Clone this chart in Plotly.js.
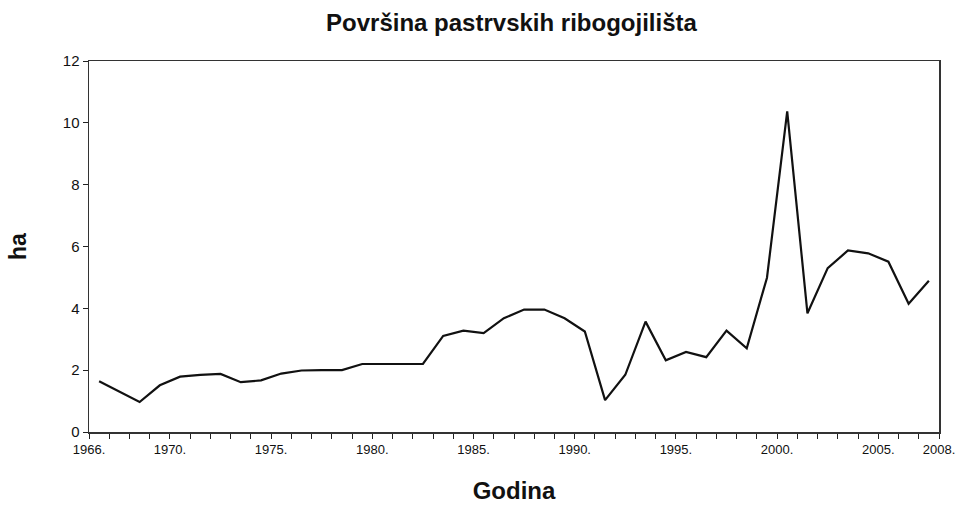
<!DOCTYPE html>
<html>
<head>
<meta charset="utf-8">
<script src="https://cdn.plot.ly/plotly-3.0.1.min.js"></script>
<style>html,body{margin:0;padding:0;background:#fff;}#chart{width:956px;height:508px;}</style>
</head>
<body>
<div id="chart"></div>
<script>
// Years (one value per year, plotted in the middle of the year interval)
const years = [1966,1967,1968,1969,1970,1971,1972,1973,1974,1975,1976,1977,1978,1979,
               1980,1981,1982,1983,1984,1985,1986,1987,1988,1989,1990,1991,1992,1993,
               1994,1995,1996,1997,1998,1999,2000,2001,2002,2003,2004,2005,2006,2007];
// Area of trout farms (ha)
const area = [1.64,1.30,0.97,1.51,1.79,1.85,1.88,1.61,1.67,1.89,1.99,2.0,2.0,2.2,
              2.2,2.2,2.2,3.11,3.28,3.2,3.68,3.96,3.96,3.68,3.25,1.03,1.85,3.57,
              2.32,2.59,2.42,3.28,2.71,4.99,10.37,3.84,5.3,5.87,5.78,5.51,4.15,4.89];
// Axis tick marks and labels
const tickYears = [];
for (let y = 1966; y <= 2008; y++) tickYears.push(y);
const labelYears = [1966,1970,1975,1980,1985,1990,1995,2000,2005,2008];
const tickText = tickYears.map(y => labelYears.includes(y) ? y + '.' : '');

const trace = {
  x: years.map(y => y + 0.5),
  y: area,
  type: 'scatter',
  mode: 'lines',
  line: {color: '#111', width: 2.2},
  hoverinfo: 'x+y'
};

const layout = {
  width: 956, height: 508,
  margin: {l: 89, r: 17, t: 61, b: 76},
  paper_bgcolor: '#fff', plot_bgcolor: '#fff',
  font: {family: '"Liberation Sans", Arial, sans-serif', color: '#111'},
  showlegend: false,
  title: {
    text: '<b>Površina pastrvskih ribogojilišta</b>',
    font: {size: 24, color: '#111'},
    x: 0.535, xanchor: 'center', y: 0.955, yanchor: 'middle'
  },
  xaxis: {
    type: 'linear', range: [1966, 2008],
    tickmode: 'array', tickvals: tickYears, ticktext: tickText,
    ticks: 'outside', ticklen: 5, tickwidth: 1, tickcolor: '#222',
    tickfont: {size: 13, color: '#111'},
    showgrid: false, zeroline: false,
    showline: true, linecolor: '#333', linewidth: 1.5, mirror: true,
    title: {text: '<b>Godina</b>', font: {size: 24, color: '#111'}, standoff: 26}
  },
  yaxis: {
    range: [0, 12], dtick: 2, tick0: 0,
    ticks: 'outside', ticklen: 5, tickwidth: 1, tickcolor: '#222',
    tickfont: {size: 15, color: '#111'},
    showgrid: false, zeroline: false,
    showline: true, linecolor: '#333', linewidth: 1.5, mirror: true,
    title: {text: '<b>ha</b>', font: {size: 23, color: '#111'}, standoff: 30}
  }
};

Plotly.newPlot('chart', [trace], layout, {displayModeBar: false, staticPlot: true});
</script>
</body>
</html>
